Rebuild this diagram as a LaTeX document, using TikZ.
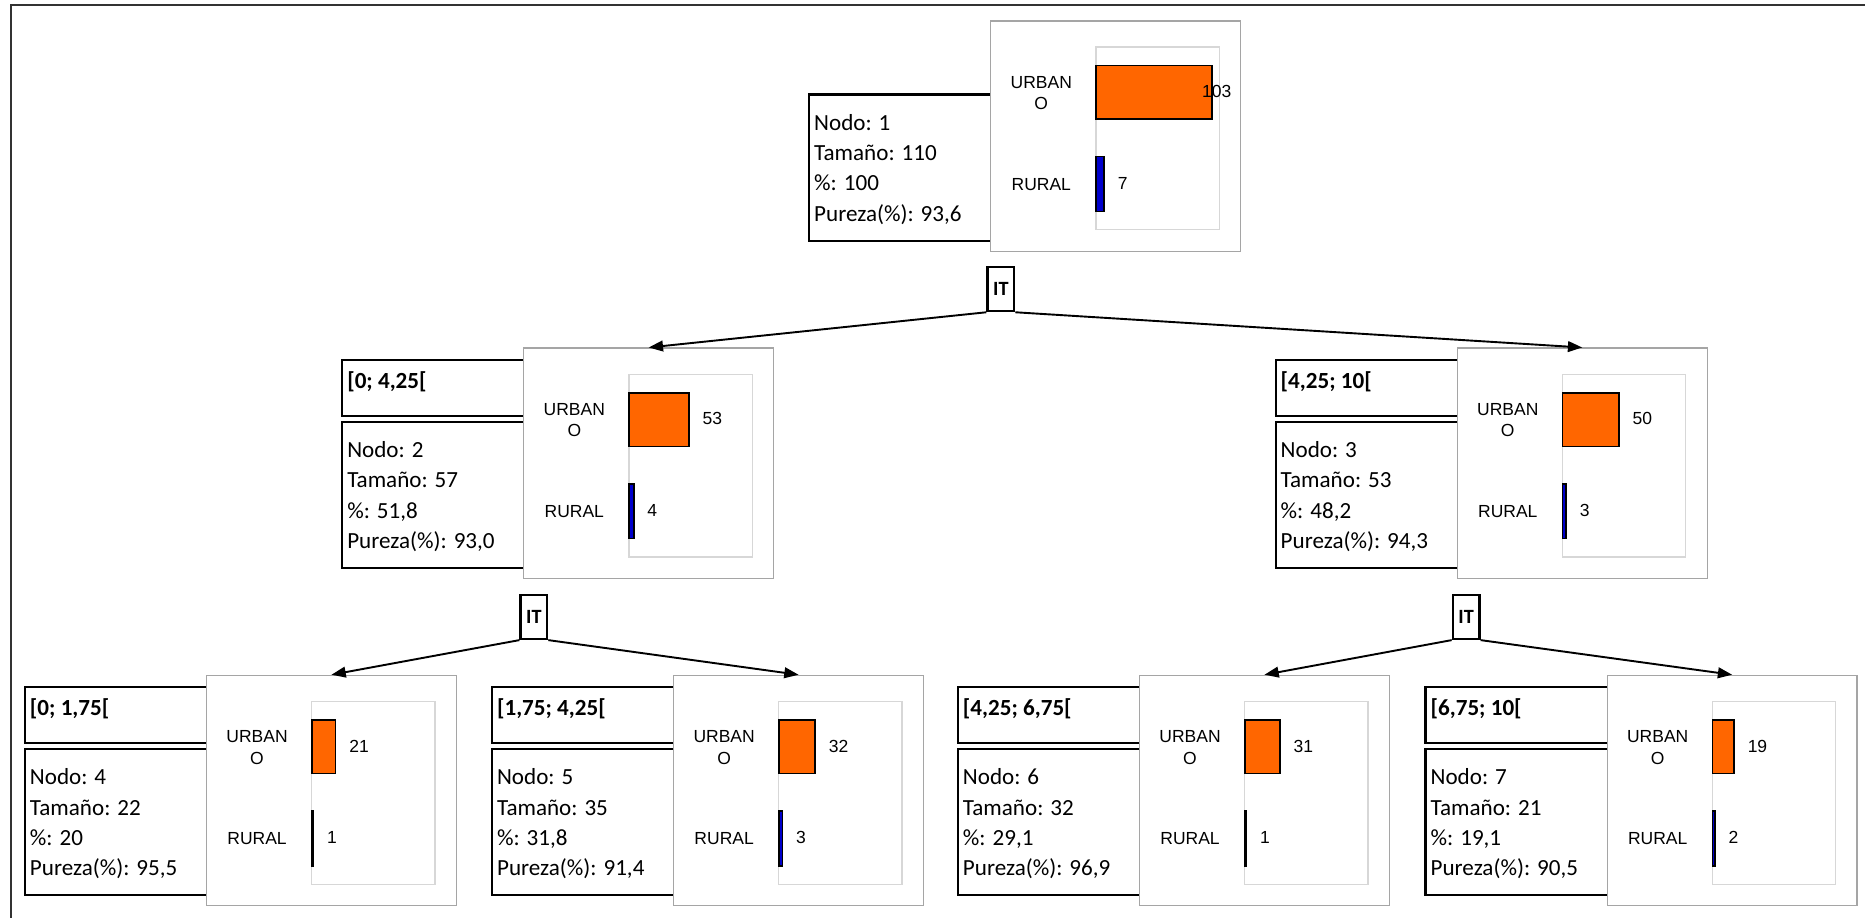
\documentclass[tikz,border=0pt]{standalone}
\usepackage{fontspec}
\setmainfont{Carlito}
\newfontfamily\arialf{Liberation Sans}
\usetikzlibrary{arrows.meta}
\definecolor{barorange}{RGB}{255,102,0}
\definecolor{barblue}{RGB}{0,0,204}
\definecolor{chartgray}{RGB}{165,165,165}
\definecolor{plotgray}{RGB}{215,215,215}
\definecolor{framegray}{RGB}{50,50,50}
\tikzset{
 infobox/.style={draw=black, line width=1.8pt, fill=white, inner sep=0pt, anchor=north west},
 chartbox/.style={draw=chartgray, line width=1.1pt, fill=white, inner sep=0pt, anchor=north west},
 plotbox/.style={draw=plotgray, line width=1pt, inner sep=0pt, anchor=north west},
 urbbar/.style={draw=black, line width=1.3pt, fill=barorange, inner sep=0pt, anchor=north west},
 rurbar/.style={draw=black, line width=1.3pt, fill=barblue, inner sep=0pt, anchor=north west},
 infotext/.style={font=\fontsize{19.4}{25.4}\selectfont, anchor=base west, inner sep=0pt},
 cattext/.style={font=\arialf\fontsize{14.7}{18}\selectfont, anchor=base, inner sep=0pt},
 numtext/.style={font=\arialf\fontsize{14.7}{18}\selectfont, anchor=west, inner sep=0pt},
 labtext/.style={font=\bfseries\fontsize{19.4}{25.4}\selectfont, anchor=base west, inner sep=0pt},
 itbox/.style={draw=black, line width=1.8pt, fill=white, minimum width=22.5pt, minimum height=37pt, inner sep=0pt, font=\bfseries\fontsize{17}{20}\selectfont},
 arr/.style={draw=black, line width=1.6pt, -{Triangle[length=12pt,width=9pt]}},
 frameline/.style={draw=framegray, line width=2pt},
}
% #1 id, #2 chart left, #3 chart top, #4 urbano, #5 rural, #6 nodo, #7 tamano, #8 pct, #9 pureza
\newcommand\treenode[9]{%
 \pgfmathsetmacro\cl{#2}\pgfmathsetmacro\ct{#3}%
 \pgfmathsetmacro\il{\cl-153}\pgfmathsetmacro\itop{\ct+61.5}%
 \pgfmathsetmacro\uw{#4*0.945}\pgfmathsetmacro\rw{max(#5*0.945,1.2)}%
 \pgfmathsetmacro\ux{min(\cl+88.5+\uw+12,\cl+178)}%
 \pgfmathsetmacro\rx{\cl+88.5+\rw+12}%
 \node[infobox, minimum width=175pt, minimum height=123pt] (#1info) at (\il,\itop) {};
 \node[infotext] (#1nodo) at (\il+5,\itop+31) {Nodo: #6};
 \node[infotext] (#1tam) at (\il+5,\itop+56.5) {Tamaño: #7};
 \node[infotext] (#1pct) at (\il+5,\itop+82) {\%: #8};
 \node[infotext] (#1pur) at (\il+5,\itop+107.5) {Pureza(\%): #9};
 \node[chartbox, minimum width=210pt, minimum height=193.5pt] (#1chart) at (\cl,\ct) {};
 \node[plotbox, minimum width=103.5pt, minimum height=153.5pt] (#1plot) at (\cl+88.5,\ct+22) {};
 \node[urbbar, minimum width=\uw pt, minimum height=45pt] (#1ubar) at (\cl+88.5,\ct+37.5) {};
 \node[rurbar, minimum width=\rw pt, minimum height=46pt] (#1rbar) at (\cl+88.5,\ct+114) {};
 \node[cattext] (#1urbA) at (\cl+43,\ct+57) {URBAN};
 \node[cattext] (#1urbB) at (\cl+43,\ct+75) {O};
 \node[cattext] (#1rur) at (\cl+43,\ct+143) {RURAL};
 \node[numtext] (#1unum) at (\ux,\ct+60) {#4};
 \node[numtext] (#1rnum) at (\rx,\ct+137) {#5};
}
\newcommand\labelbox[4]{%
 \node[infobox, minimum width=175pt, minimum height=47pt] (#1lab) at (#2-153,#3+9.5) {};
 \node[labtext] (#1labt) at (#2-148,#3+34.5) {#4};
}
\begin{document}
\begin{tikzpicture}[x=1pt,y=-1pt]
\useasboundingbox (0,0) rectangle (1567.2,770.6);
\fill[white] (0,0) rectangle (1567.2,770.6);
\draw[frameline] (9.2,790) -- (9.2,4.2) -- (1590,4.2);
% root
\treenode{n1}{832}{17}{103}{7}{1}{110}{100}{93,6}
% level 1
\labelbox{n2}{439.6}{292}{[0; 4,25[}
\treenode{n2}{439.6}{292}{53}{4}{2}{57}{51,8}{93,0}
\labelbox{n3}{1224}{292}{[4,25; 10[}
\treenode{n3}{1224}{292}{50}{3}{3}{53}{48,2}{94,3}
% level 2
\labelbox{n4}{173}{567}{[0; 1,75[}
\treenode{n4}{173}{567}{21}{1}{4}{22}{20}{95,5}
\labelbox{n5}{565.5}{567}{[1,75; 4,25[}
\treenode{n5}{565.5}{567}{32}{3}{5}{35}{31,8}{91,4}
\labelbox{n6}{957}{567}{[4,25; 6,75[}
\treenode{n6}{957}{567}{31}{1}{6}{32}{29,1}{96,9}
\labelbox{n7}{1350}{567}{[6,75; 10[}
\treenode{n7}{1350}{567}{19}{2}{7}{21}{19,1}{90,5}
% split nodes
\node[itbox] (it1) at (841,243) {IT};
\node[itbox] (it2) at (448.6,518.5) {IT};
\node[itbox] (it3) at (1232,518.5) {IT};
% connectors
\draw[arr] (it1.south west) -- (n2chart.north);
\draw[arr] (it1.south east) -- (n3chart.north);
\draw[arr] (it2.south west) -- (n4chart.north);
\draw[arr] (it2.south east) -- (n5chart.north);
\draw[arr] (it3.south west) -- (n6chart.north);
\draw[arr] (it3.south east) -- (n7chart.north);
\end{tikzpicture}
\end{document}
